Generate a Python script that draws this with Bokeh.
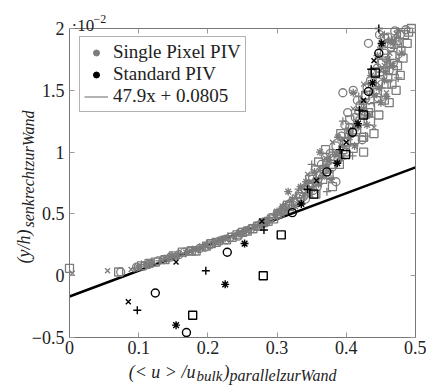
import math
from bokeh.plotting import figure
from bokeh.models import Range1d, LinearAxis, FixedTicker, Label, Legend, LegendItem
from bokeh.embed import file_html
from bokeh.resources import INLINE

# ---------------- data (y in units of 1e-2) ----------------
x_ticks = [0, 0.1, 0.2, 0.3, 0.4, 0.5]
x_tick_labels = ["0", "0.1", "0.2", "0.3", "0.4", "0.5"]
y_ticks = [-0.5, 0, 0.5, 1, 1.5, 2]
y_tick_labels = ["\u22120.5", "0", "0.5", "1", "1.5", "2"]
x_lim = (0.0, 0.5)
y_lim = (-0.5, 2.0)

fit_slope = 47.9
fit_intercept = 0.0805
fit_x = [0.0, 0.5]

# Single Pixel PIV (gray)
sp_circle_x = [0.074, 0.097, 0.114, 0.128, 0.146, 0.158, 0.173, 0.188, 0.203, 0.217, 0.232, 0.247, 0.262, 0.277, 0.291, 0.306, 0.318, 0.329, 0.336, 0.346, 0.341, 0.351, 0.358, 0.364, 0.370, 0.380, 0.385, 0.393, 0.400, 0.405, 0.413, 0.395, 0.410, 0.420, 0.427, 0.435, 0.443, 0.445, 0.453, 0.457, 0.432, 0.465, 0.460, 0.470, 0.475, 0.448,
               0.108, 0.136, 0.166, 0.196, 0.226, 0.256, 0.284, 0.312, 0.332, 0.355, 0.377, 0.398, 0.418, 0.438, 0.455, 0.468, 0.385, 0.423,
               0.338, 0.352, 0.362, 0.372, 0.388, 0.397, 0.402, 0.416, 0.430, 0.446, 0.450, 0.462, 0.478, 0.486, 0.244, 0.270, 0.300]
sp_circle_y = [0.03, 0.07, 0.09, 0.12, 0.15, 0.17, 0.20, 0.22, 0.25, 0.28, 0.31, 0.35, 0.38, 0.42, 0.47, 0.52, 0.58, 0.60, 0.68, 0.74, 0.62, 0.80, 0.72, 0.90, 0.96, 0.88, 1.05, 1.13, 1.00, 1.20, 1.28, 1.48, 1.50, 1.38, 1.45, 1.58, 1.50, 1.68, 1.62, 1.76, 1.88, 1.85, 1.93, 1.98, 1.90, 1.95,
               0.08, 0.13, 0.19, 0.23, 0.29, 0.36, 0.43, 0.55, 0.66, 0.86, 0.99, 1.22, 1.33, 1.65, 1.80, 1.72, 0.76, 1.10,
               0.64, 0.69, 0.82, 0.92, 0.94, 1.08, 1.32, 1.42, 1.52, 1.44, 1.72, 1.66, 1.95, 1.99, 0.32, 0.40, 0.49]

sp_square_x = [0.000, 0.071, 0.104, 0.124, 0.138, 0.163, 0.183, 0.198, 0.212, 0.227, 0.242, 0.257, 0.272, 0.287, 0.301, 0.311, 0.324, 0.334, 0.341, 0.356, 0.366, 0.375, 0.383, 0.390, 0.400, 0.410, 0.415, 0.425, 0.435, 0.435, 0.447, 0.455, 0.462, 0.466, 0.472, 0.460, 0.474, 0.466, 0.479, 0.484, 0.494, 0.472, 0.452, 0.425, 0.380, 0.370,
               0.115, 0.150, 0.176, 0.205, 0.235, 0.265, 0.295, 0.318, 0.347, 0.360, 0.392, 0.405, 0.428, 0.448, 0.462, 0.488, 0.478, 0.440,
               0.345, 0.358, 0.368, 0.378, 0.395, 0.412, 0.420, 0.432, 0.445, 0.458, 0.468, 0.482, 0.490, 0.455, 0.250, 0.280, 0.315]
sp_square_y = [0.06, 0.03, 0.08, 0.11, 0.13, 0.19, 0.20, 0.24, 0.27, 0.29, 0.33, 0.36, 0.40, 0.44, 0.50, 0.54, 0.60, 0.64, 0.70, 0.66, 0.78, 0.82, 0.95, 0.90, 1.08, 1.03, 1.18, 1.12, 1.25, 1.36, 1.30, 1.42, 1.40, 1.55, 1.50, 1.60, 1.70, 1.78, 1.82, 1.95, 2.00, 1.90, 1.72, 1.00, 0.72, 1.02,
               0.10, 0.16, 0.20, 0.26, 0.31, 0.38, 0.46, 0.56, 0.78, 0.92, 1.15, 1.26, 1.46, 1.65, 1.88, 1.88, 1.62, 1.15,
               0.72, 0.76, 0.86, 0.90, 1.02, 1.10, 1.25, 1.32, 1.48, 1.55, 1.66, 1.76, 1.97, 1.92, 0.35, 0.43, 0.57]

sp_xmark_x = [0.004, 0.055, 0.089, 0.109, 0.133, 0.153, 0.168, 0.193, 0.208, 0.222, 0.237, 0.252, 0.267, 0.282, 0.296, 0.314, 0.326, 0.338, 0.348, 0.361, 0.368, 0.375, 0.387, 0.395, 0.407, 0.415, 0.420, 0.430, 0.437, 0.445, 0.450, 0.455, 0.463, 0.467, 0.472, 0.450, 0.395, 0.440,
              0.120, 0.145, 0.180, 0.215, 0.245, 0.275, 0.305, 0.330, 0.344, 0.370, 0.380, 0.410, 0.425, 0.458, 0.475]
sp_xmark_y = [0.02, 0.04, 0.05, 0.09, 0.13, 0.16, 0.19, 0.23, 0.26, 0.30, 0.33, 0.36, 0.39, 0.45, 0.48, 0.55, 0.64, 0.66, 0.76, 0.85, 0.82, 0.92, 1.00, 1.10, 1.15, 1.25, 1.32, 1.40, 1.48, 1.56, 1.66, 1.70, 1.80, 1.88, 1.96, 1.95, 0.96, 1.20,
              0.11, 0.15, 0.22, 0.27, 0.35, 0.42, 0.51, 0.58, 0.82, 0.95, 1.08, 1.35, 1.55, 1.48, 1.75]

sp_plus_x = [0.094, 0.119, 0.143, 0.158, 0.178, 0.198, 0.215, 0.229, 0.245, 0.259, 0.275, 0.288, 0.304, 0.321, 0.331, 0.344, 0.356, 0.366, 0.380, 0.409, 0.390, 0.403, 0.413, 0.428, 0.427, 0.440, 0.443, 0.451, 0.460, 0.464, 0.469, 0.476, 0.480, 0.372,
             0.104, 0.130, 0.168, 0.188, 0.220, 0.252, 0.282, 0.310, 0.338, 0.350, 0.376, 0.395, 0.418, 0.432, 0.455, 0.475]
sp_plus_y = [0.06, 0.10, 0.14, 0.18, 0.21, 0.26, 0.28, 0.32, 0.34, 0.37, 0.41, 0.46, 0.53, 0.57, 0.70, 0.72, 0.78, 0.88, 1.00, 0.97, 1.12, 1.15, 1.22, 1.13, 1.30, 1.40, 1.60, 1.52, 1.68, 1.72, 1.84, 1.92, 1.85, 0.68,
             0.09, 0.12, 0.18, 0.23, 0.29, 0.35, 0.42, 0.50, 0.63, 0.90, 0.84, 1.25, 1.45, 1.55, 1.95, 1.60]

sp_star_x = [0.099, 0.117, 0.138, 0.156, 0.176, 0.196, 0.210, 0.225, 0.239, 0.255, 0.269, 0.284, 0.298, 0.308, 0.322, 0.316, 0.334, 0.351, 0.354, 0.371, 0.378, 0.385, 0.395, 0.405, 0.417, 0.425, 0.433, 0.440, 0.447, 0.455, 0.457, 0.467, 0.463, 0.475, 0.450, 0.362, 0.410,
             0.112, 0.148, 0.186, 0.218, 0.248, 0.278, 0.300, 0.326, 0.342, 0.365, 0.388, 0.412, 0.430, 0.450, 0.460, 0.480,
             0.348, 0.360, 0.374, 0.392, 0.403, 0.422, 0.436, 0.445, 0.470, 0.458]
sp_star_y = [0.07, 0.10, 0.14, 0.16, 0.20, 0.24, 0.27, 0.30, 0.32, 0.37, 0.40, 0.43, 0.49, 0.56, 0.62, 0.68, 0.72, 0.70, 0.84, 0.88, 0.78, 0.98, 1.05, 1.12, 1.20, 1.35, 1.30, 1.46, 1.52, 1.58, 1.65, 1.70, 1.90, 1.98, 1.85, 1.00, 1.48,
             0.09, 0.16, 0.21, 0.29, 0.34, 0.41, 0.52, 0.56, 0.76, 0.80, 1.12, 1.05, 1.22, 1.40, 1.75, 1.80,
             0.66, 0.74, 0.94, 0.95, 1.18, 1.40, 1.62, 1.78, 1.90, 1.45]

# Standard PIV (black)
std_plus_x = [0.098, 0.197, 0.281, 0.344, 0.391, 0.419, 0.436, 0.447]
std_plus_y = [-0.28, 0.04, 0.37, 0.70, 1.02, 1.34, 1.67, 2.00]
std_xmark_x = [0.085, 0.154, 0.278, 0.357, 0.400, 0.425, 0.440]
std_xmark_y = [-0.21, 0.11, 0.44, 0.77, 1.08, 1.42, 1.74]
std_star_x = [0.154, 0.225, 0.253, 0.335, 0.387, 0.417, 0.438, 0.451]
std_star_y = [-0.40, -0.07, 0.26, 0.58, 0.91, 1.23, 1.56, 1.88]
std_circle_x = [0.124, 0.169, 0.228, 0.322, 0.372, 0.409, 0.432, 0.447]
std_circle_y = [-0.14, -0.46, 0.19, 0.51, 0.84, 1.16, 1.49, 1.80]
std_square_x = [0.178, 0.280, 0.306, 0.353, 0.399, 0.425, 0.442]
std_square_y = [-0.32, 0.00, 0.33, 0.66, 0.98, 1.30, 1.64]

legend_labels = ["Single Pixel PIV", "Standard PIV", "47.9x + 0.0805"]

# ---------------- layout (pixels) ----------------
W, H = 426, 385
BOX_L, BOX_R, BOX_T, BOX_B = 69, 415, 28, 337   # axis box inside the canvas
SERIF = "Liberation Serif"
GRAY = "#7c7c7c"
NAN = float("nan")

# ranges so that the axis box sits at the pixel positions above, with the
# frame covering the whole canvas (so texts around the box are not clipped)
kx = (x_lim[1] - x_lim[0]) / (BOX_R - BOX_L)
ky = (y_lim[1] - y_lim[0]) / (BOX_B - BOX_T)
x_range = Range1d(x_lim[0] - BOX_L * kx, x_lim[1] + (W - BOX_R) * kx)
y_range = Range1d(y_lim[0] - (H - BOX_B) * ky, y_lim[1] + BOX_T * ky)

p = figure(width=W, height=H, output_backend="svg", toolbar_location=None,
           x_range=x_range, y_range=y_range,
           x_axis_location=None, y_axis_location=None,
           min_border=0, min_border_left=0, min_border_right=0,
           min_border_top=0, min_border_bottom=0)
p.xgrid.visible = False
p.ygrid.visible = False
p.outline_line_color = None
p.background_fill_color = "white"
p.border_fill_color = "white"


def make_axis(ticks, labels, bounds, loc, show_labels, standoff):
    ax = LinearAxis(fixed_location=loc, bounds=bounds)
    ax.ticker = FixedTicker(ticks=ticks)
    ax.axis_line_color = "#777777"
    ax.axis_line_width = 1
    ax.major_tick_in = 5
    ax.major_tick_out = 0
    ax.minor_tick_in = 0
    ax.minor_tick_out = 0
    ax.major_tick_line_color = "#999999"
    if show_labels:
        ax.major_label_overrides = {t: l for t, l in zip(ticks, labels)}
        ax.major_label_text_font = SERIF
        ax.major_label_text_font_size = "18px"
        ax.major_label_text_color = "#222222"
        ax.major_label_standoff = standoff
    else:
        ax.major_label_overrides = {t: "" for t in ticks}
        ax.major_label_text_font_size = "1px"
        ax.major_label_standoff = 0
    return ax


p.add_layout(make_axis(x_ticks, x_tick_labels, x_lim, y_lim[0], True, 3), "below")
p.add_layout(make_axis(x_ticks, x_tick_labels, x_lim, y_lim[1], False, 0), "above")
p.add_layout(make_axis(y_ticks, y_tick_labels, y_lim, x_lim[0], True, 5), "left")
p.add_layout(make_axis(y_ticks, y_tick_labels, y_lim, x_lim[1], False, 0), "right")

# fit line  x = 47.9 y + 0.0805  ->  y = (x - b) / a, shown in units of 1e-2
fit_y = [(xv - fit_intercept) / fit_slope * 100 for xv in fit_x]
p.line(fit_x, fit_y, line_color="black", line_width=2.5)

# Single Pixel PIV cloud (gray, open markers)
gkw = dict(line_color=GRAY, fill_color=None, line_width=1.3)
p.scatter(sp_circle_x, sp_circle_y, marker="circle", size=8, **gkw)
p.scatter(sp_square_x, sp_square_y, marker="square", size=8, **gkw)
p.scatter(sp_xmark_x, sp_xmark_y, marker="x", size=7, **gkw)
p.scatter(sp_plus_x, sp_plus_y, marker="cross", size=8, **gkw)
p.scatter(sp_star_x, sp_star_y, marker="asterisk", size=8, **gkw)

# Standard PIV (black)
bkw = dict(line_color="black", fill_color=None, line_width=1.4)
p.scatter(std_plus_x, std_plus_y, marker="cross", size=8, **bkw)
p.scatter(std_xmark_x, std_xmark_y, marker="x", size=7, **bkw)
p.scatter(std_star_x, std_star_y, marker="asterisk", size=8, **bkw)
p.scatter(std_circle_x, std_circle_y, marker="circle", size=8, **bkw)
p.scatter(std_square_x, std_square_y, marker="square", size=8, **bkw)

# legend (dummy renderers, not drawn in the plot)
r_sp = p.scatter([NAN], [NAN], marker="circle", size=6, fill_color=GRAY, line_color=GRAY)
r_std = p.scatter([NAN], [NAN], marker="circle", size=6, fill_color="black", line_color="black")
r_fit = p.line([NAN, NAN], [NAN, NAN], line_color="#666666", line_width=1)
legend = Legend(items=[LegendItem(label=legend_labels[0], renderers=[r_sp]),
                       LegendItem(label=legend_labels[1], renderers=[r_std]),
                       LegendItem(label=legend_labels[2], renderers=[r_fit])],
                location=(79, 273), padding=4, spacing=0,
                glyph_width=24, glyph_height=15, label_height=20, label_standoff=5,
                label_text_font=SERIF, label_text_font_size="19px", label_text_color="#222222",
                border_line_color="#666666", border_line_width=1,
                background_fill_color="white", background_fill_alpha=1)
p.add_layout(legend)


# ---- custom text (screen px from canvas bottom-left) ----
def lab(text, sx, sy, size, style="normal", angle=0.0, align="left"):
    p.add_layout(Label(x=sx, y=sy, x_units="screen", y_units="screen", text=text,
                       text_font=SERIF, text_font_size=size, text_font_style=style,
                       text_color="#222222", angle=angle, text_align=align,
                       text_baseline="alphabetic"))


# exponent marker "·10^-2"
lab("\u00b710", 71, 360, "17px")
lab("\u22122", 93, 367, "12px")

# x label: (< u > /u_bulk)_parallelzurWand
lab("(< u > /u", 195, 14, "18px", "italic", align="right")
lab("bulk", 196, 10, "15px", "italic")
lab(")", 223, 14, "18px", "italic")
lab("parallelzurWand", 229, 10, "16px", "italic")

# y label: (y/h)_senkrechtzurWand (rotated)
lab("(y/h)", 23, 122, "18px", "italic", angle=math.pi / 2)
lab("senkrechtzurWand", 28, 158, "16px", "italic", angle=math.pi / 2)

open("out.html", "w").write(file_html(p, INLINE))
